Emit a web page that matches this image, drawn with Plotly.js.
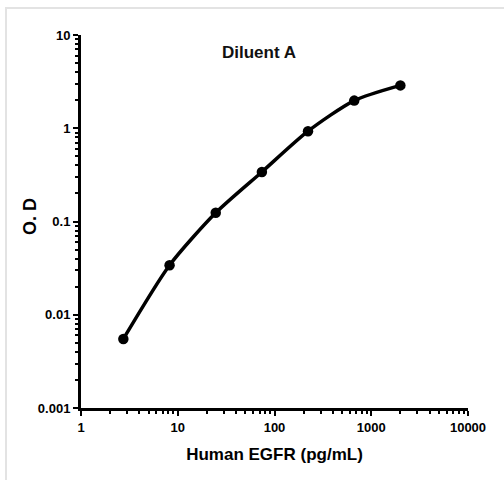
<!DOCTYPE html>
<html>
<head>
<meta charset="utf-8">
<script src="https://cdn.plot.ly/plotly-3.0.1.min.js"></script>
<style>
html,body{margin:0;padding:0;background:#fff;}
#chart{width:504px;height:480px;}
</style>
</head>
<body>
<div id="chart"></div>
<script>
// Data
const concentration = [2.74, 8.23, 24.7, 74.1, 222, 667, 2000];
const od = [0.0055, 0.034, 0.124, 0.34, 0.93, 1.98, 2.88];
const xTickVals = [1, 10, 100, 1000, 10000];
const xTickText = ['1', '10', '100', '1000', '10000'];
const yTickVals = [0.001, 0.01, 0.1, 1, 10];
const yTickText = ['0.001', '0.01', '0.1', '1', '10'];

const FONT = '"Liberation Sans", Arial, sans-serif';

const trace = {
  x: concentration,
  y: od,
  mode: 'lines+markers',
  type: 'scatter',
  line: {color: '#000', width: 3.5, shape: 'spline', smoothing: 0.7},
  marker: {color: '#000', size: 10.5},
  showlegend: false,
  hoverinfo: 'x+y'
};

const W = 504, H = 480;
const mL = 81, mR = 36, mT = 35, mB = 72;
const pw = W - mL - mR, ph = H - mT - mB;
const px = v => (v - mL) / pw;
const py = v => (H - mB - v) / ph;

const layout = {
  width: W,
  height: H,
  margin: {l: mL, r: mR, t: mT, b: mB, pad: 0},
  paper_bgcolor: '#fff',
  plot_bgcolor: '#fff',
  font: {family: FONT, color: '#000'},
  title: {
    text: 'Diluent A',
    font: {family: FONT, size: 17, color: '#111', weight: 'bold'},
    x: px(259), xref: 'paper', xanchor: 'center',
    y: 1 - 52 / H, yref: 'container', yanchor: 'middle'
  },
  xaxis: {
    type: 'log',
    range: [0, 4],
    tickmode: 'array',
    tickvals: xTickVals,
    ticktext: xTickText,
    showgrid: false,
    zeroline: false,
    showline: true,
    linecolor: '#000',
    linewidth: 3,
    ticks: 'outside',
    ticklen: 5,
    tickwidth: 2,
    tickcolor: '#000',
    minor: {ticks: 'outside', ticklen: 3, tickwidth: 2, tickcolor: '#000', dtick: 'D1', showgrid: false},
    tickfont: {family: FONT, size: 13, color: '#000', weight: 'bold'},
    title: {text: 'Human EGFR (pg/mL)', font: {family: FONT, size: 17, color: '#000', weight: 'bold'}, standoff: 15},
    fixedrange: true
  },
  yaxis: {
    type: 'log',
    range: [-3, 1],
    tickmode: 'array',
    tickvals: yTickVals,
    ticktext: yTickText,
    showgrid: false,
    zeroline: false,
    showline: true,
    linecolor: '#000',
    linewidth: 3,
    ticks: 'outside',
    ticklen: 5,
    tickwidth: 2,
    tickcolor: '#000',
    minor: {ticks: 'outside', ticklen: 3, tickwidth: 2, tickcolor: '#000', dtick: 'D1', showgrid: false},
    tickfont: {family: FONT, size: 13, color: '#000', weight: 'bold'},
    fixedrange: true
  },
  annotations: [{
    text: 'O. D',
    xref: 'paper', yref: 'paper',
    x: px(30), y: py(216),
    xanchor: 'center', yanchor: 'middle',
    textangle: -90, showarrow: false,
    font: {family: FONT, size: 18, color: '#000', weight: 'bold'}
  }],
  shapes: [{
    type: 'rect', xref: 'paper', yref: 'paper',
    x0: px(6), x1: px(520), y0: py(500), y1: py(8),
    line: {color: '#e3e3e3', width: 2},
    fillcolor: 'rgba(0,0,0,0)', layer: 'below'
  }]
};

Plotly.newPlot('chart', [trace], layout, {displayModeBar: false, staticPlot: true});
</script>
</body>
</html>
